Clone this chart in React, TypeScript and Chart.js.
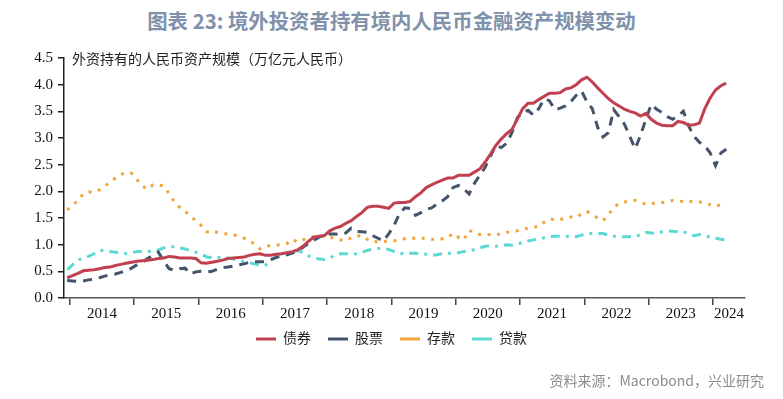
import React, { useEffect, useRef } from 'react';
import { Chart, registerables } from 'chart.js';

Chart.register(...registerables);

const TITLE = '图表 23: 境外投资者持有境内人民币金融资产规模变动';
const Y_TITLE = '外资持有的人民币资产规模（万亿元人民币）';
const SOURCE = '资料来源：Macrobond，兴业研究';
const SERIES_NAMES = ['债券', '股票', '存款', '贷款'];
const YEAR_LABELS = ['2014', '2015', '2016', '2017', '2018', '2019', '2020', '2021', '2022', '2023', '2024'];
const FIRST_YEAR = 2013;
const FIRST_MONTH = 12;
const Y_TICKS = [0, 0.5, 1, 1.5, 2, 2.5, 3, 3.5, 4, 4.5];

// Monthly values, Dec 2013 .. Mar 2024 (trillion RMB)
const BONDS = [
  0.38, 0.42, 0.46, 0.51, 0.52, 0.53, 0.55, 0.57, 0.58, 0.61, 0.63, 0.65, 0.67,
  0.69, 0.70, 0.71, 0.72, 0.74, 0.75, 0.78, 0.77, 0.75, 0.75, 0.75, 0.74,
  0.66, 0.65, 0.67, 0.69, 0.71, 0.74, 0.75, 0.76, 0.77, 0.80, 0.82, 0.83,
  0.80, 0.80, 0.82, 0.83, 0.85, 0.87, 0.90, 0.97, 1.06, 1.14, 1.16, 1.17,
  1.26, 1.31, 1.34, 1.40, 1.45, 1.53, 1.60, 1.70, 1.72, 1.72, 1.70, 1.68,
  1.78, 1.79, 1.79, 1.81, 1.90, 1.97, 2.07, 2.12, 2.17, 2.21, 2.25, 2.25,
  2.30, 2.30, 2.30, 2.36, 2.42, 2.55, 2.70, 2.86, 2.98, 3.08, 3.16, 3.35,
  3.55, 3.65, 3.65, 3.72, 3.78, 3.84, 3.84, 3.85, 3.92, 3.94, 4.00, 4.09,
  4.14, 4.05, 3.94, 3.84, 3.74, 3.66, 3.60, 3.54, 3.50, 3.47, 3.41, 3.46,
  3.35, 3.28, 3.24, 3.23, 3.23, 3.31, 3.29, 3.24, 3.25, 3.28, 3.55, 3.75,
  3.90, 3.98, 4.03,
];
const STOCKS = [
  0.33, 0.32, 0.31, 0.32, 0.34, 0.35, 0.38, 0.41, 0.43, 0.45, 0.48, 0.51, 0.56,
  0.62, 0.67, 0.74, 0.80, 0.86, 0.70, 0.55, 0.52, 0.55, 0.56, 0.45, 0.49,
  0.50, 0.49, 0.50, 0.54, 0.57, 0.58, 0.60, 0.62, 0.64, 0.67, 0.68, 0.68,
  0.68, 0.72, 0.76, 0.79, 0.81, 0.84, 0.88, 0.95, 1.02, 1.08, 1.14, 1.18,
  1.20, 1.20, 1.19, 1.22, 1.31, 1.25, 1.24, 1.23, 1.17, 1.12, 1.07, 1.20,
  1.36, 1.58, 1.69, 1.68, 1.55, 1.60, 1.66, 1.69, 1.76, 1.82, 1.90, 2.07,
  2.11, 2.05, 1.95, 2.15, 2.30, 2.45, 2.66, 2.86, 2.82, 2.90, 3.10, 3.38,
  3.48, 3.52, 3.43, 3.55, 3.73, 3.70, 3.53, 3.56, 3.60, 3.68, 3.80, 3.88,
  3.68, 3.55, 3.20, 3.02, 3.10, 3.53, 3.40, 3.26, 3.03, 2.80, 3.05, 3.35,
  3.63, 3.54, 3.48, 3.40, 3.35, 3.42, 3.50, 3.22, 3.03, 2.92, 2.85, 2.72,
  2.48, 2.72, 2.79,
];
const DEPOSITS = [
  1.65, 1.74, 1.83, 1.95, 1.99, 1.98, 2.03, 2.10, 2.17, 2.25, 2.32, 2.35, 2.34,
  2.22, 2.10, 2.04, 2.12, 2.12, 2.10, 1.96, 1.80, 1.70, 1.63, 1.53, 1.45,
  1.36, 1.24, 1.26, 1.23, 1.21, 1.20, 1.19, 1.15, 1.12, 1.07, 1.01, 0.92,
  0.96, 0.99, 0.99, 1.00, 1.02, 1.10, 1.05, 1.09, 1.13, 1.15, 1.16, 1.16,
  1.14, 1.12, 1.09, 1.07, 1.13, 1.16, 1.17, 1.10, 1.05, 1.06, 1.06, 1.07,
  1.07, 1.10, 1.11, 1.12, 1.12, 1.12, 1.12, 1.10, 1.09, 1.11, 1.13, 1.21,
  1.14, 1.09, 1.27, 1.22, 1.19, 1.19, 1.19, 1.19, 1.20, 1.23, 1.25, 1.26,
  1.29, 1.31, 1.33, 1.34, 1.42, 1.48, 1.47, 1.47, 1.50, 1.52, 1.51, 1.58,
  1.62, 1.57, 1.50, 1.45, 1.56, 1.70, 1.77, 1.80, 1.81, 1.83, 1.79, 1.76,
  1.77, 1.78, 1.79, 1.80, 1.83, 1.82, 1.81, 1.81, 1.81, 1.80, 1.79, 1.75,
  1.72, 1.75, 1.77,
];
const LOANS = [
  0.53, 0.62, 0.71, 0.75, 0.78, 0.83, 0.89, 0.89, 0.87, 0.86, 0.85, 0.83, 0.85,
  0.87, 0.87, 0.87, 0.88, 0.90, 0.94, 0.96, 0.96, 0.94, 0.92, 0.89, 0.86,
  0.82, 0.77, 0.76, 0.76, 0.76, 0.75, 0.73, 0.71, 0.68, 0.66, 0.64, 0.61,
  0.62, 0.71, 0.76, 0.80, 0.84, 0.88, 0.89, 0.85, 0.79, 0.76, 0.73, 0.72,
  0.75, 0.80, 0.83, 0.83, 0.82, 0.83, 0.86, 0.89, 0.92, 0.93, 0.93, 0.91,
  0.87, 0.83, 0.84, 0.84, 0.84, 0.83, 0.82, 0.80, 0.81, 0.83, 0.84, 0.84,
  0.85, 0.87, 0.88, 0.91, 0.94, 0.97, 0.98, 0.97, 0.98, 1.00, 0.99, 1.01,
  1.04, 1.07, 1.09, 1.10, 1.13, 1.15, 1.16, 1.16, 1.16, 1.15, 1.15, 1.18,
  1.21, 1.21, 1.21, 1.21, 1.18, 1.16, 1.15, 1.15, 1.15, 1.16, 1.18, 1.23,
  1.22, 1.21, 1.24, 1.26, 1.25, 1.24, 1.24, 1.21, 1.17, 1.19, 1.17, 1.14,
  1.12, 1.10, 1.09,
];

// month labels "YYYY-MM" for each data point
const MONTHS: string[] = BONDS.map((_, i) => {
  const total = FIRST_YEAR * 12 + (FIRST_MONTH - 1) + i;
  const y = Math.floor(total / 12);
  const m = (total % 12) + 1;
  return `${y}-${String(m).padStart(2, '0')}`;
});

const BASE_YEAR = Number(YEAR_LABELS[0]);
// position of a month on the time axis (months since Jan of the first year label, mid-month)
const monthPos = (label: string) => {
  const [y, m] = label.split('-').map(Number);
  return (y - BASE_YEAR) * 12 + (m - 1) + 0.5;
};
const toPoints = (vals: number[]) => vals.map((v, i) => ({ x: monthPos(MONTHS[i]), y: v }));

const X_MIN = -1.1;
const X_MAX = 126;

const COLORS = ['#c1404f', '#44546a', '#f0a53a', '#5dd9d3'];
const DASHES = [[], [9, 7], [3, 6.5], [9, 6, 3, 6]];
const SERIES = [BONDS, STOCKS, DEPOSITS, LOANS];

const SERIF = "'Liberation Serif', 'Times New Roman', serif";
const CJK_SERIF = "'Liberation Serif', 'Noto Sans CJK SC', serif";

export default function App() {
  const ref = useRef<HTMLCanvasElement | null>(null);

  useEffect(() => {
    const canvas = ref.current;
    if (!canvas) return;

    // tick positions: year boundaries and year-label centres
    const boundaries = YEAR_LABELS.map((_, i) => i * 12);
    const centres = YEAR_LABELS.map((_, i) => (i < YEAR_LABELS.length - 1 ? i * 12 + 6 : (i * 12 + X_MAX) / 2));
    const tickVals = [...boundaries, ...centres].sort((a, b) => a - b);

    const yTitlePlugin = {
      id: 'yTitle',
      afterLayout(chart: any) {
        const lg = chart.legend;
        if (lg) {
          lg.top -= 9;
          lg.bottom -= 9;
        }
      },
      afterDraw(chart: any) {
        const { ctx, chartArea } = chart;
        ctx.save();
        ctx.font = "14px 'Noto Sans CJK SC', sans-serif";
        ctx.fillStyle = '#222';
        ctx.textAlign = 'left';
        ctx.textBaseline = 'middle';
        ctx.fillText(Y_TITLE, chartArea.left + 8, chartArea.top + 1);
        ctx.restore();
      },
    };

    const chart = new Chart(canvas, {
      type: 'line',
      data: {
        datasets: SERIES.map((vals, i) => ({
          label: SERIES_NAMES[i],
          data: toPoints(vals),
          borderColor: COLORS[i],
          backgroundColor: COLORS[i],
          borderWidth: 3,
          borderDash: DASHES[i],
          borderCapStyle: 'butt',
          pointRadius: 0,
          pointHoverRadius: 0,
          tension: 0,
          fill: false,
        })),
      },
      options: {
        animation: false,
        responsive: false,
        maintainAspectRatio: false,
        layout: { padding: { top: 58, left: 0, right: 0, bottom: 34 } },
        scales: {
          x: {
            type: 'linear',
            min: X_MIN,
            max: X_MAX,
            afterBuildTicks: (scale: any) => {
              scale.ticks = tickVals.map((v) => ({ value: v }));
            },
            afterFit: (scale: any) => {
              scale.height = 26;
            },
            ticks: {
              autoSkip: false,
              maxRotation: 0,
              minRotation: 0,
              padding: 0,
              color: '#111',
              font: { family: SERIF, size: 15 },
              callback: (v: any) => {
                const idx = centres.indexOf(Number(v));
                return idx >= 0 ? YEAR_LABELS[idx] : '';
              },
            },
            grid: {
              drawOnChartArea: false,
              drawTicks: true,
              tickLength: 7,
              tickColor: (c: any) => (c.tick && c.tick.value % 12 === 0 ? '#444' : 'rgba(0,0,0,0)'),
              lineWidth: 1.5,
            },
            border: { display: true, color: '#555', width: 1.5 },
          },
          y: {
            min: 0,
            max: 4.5,
            afterBuildTicks: (scale: any) => {
              scale.ticks = Y_TICKS.map((v) => ({ value: v }));
            },
            afterFit: (scale: any) => {
              scale.width = 64;
            },
            ticks: {
              padding: 5,
              color: '#111',
              font: { family: SERIF, size: 15 },
              callback: (v: any) => Number(v).toFixed(1),
            },
            grid: {
              drawOnChartArea: false,
              drawTicks: true,
              tickLength: 6,
              tickColor: '#222',
              lineWidth: 1.5,
            },
            border: { display: true, color: '#222', width: 1.5 },
          },
          spacer: {
            type: 'linear',
            position: 'right',
            display: true,
            min: 0,
            max: 1,
            afterFit: (scale: any) => {
              scale.width = 38;
            },
            ticks: { display: false },
            grid: { display: false, drawTicks: false },
            border: { display: false },
          },
        },
        plugins: {
          legend: {
            display: true,
            position: 'bottom',
            align: 'center',
            labels: {
              usePointStyle: true,
              pointStyle: 'line',
              pointStyleWidth: 20,
              padding: 17,
              color: '#222',
              font: { family: CJK_SERIF, size: 14 },
            },
          },
          tooltip: { enabled: false },
          title: { display: false },
        },
      },
      plugins: [yTitlePlugin],
    } as any);

    return () => chart.destroy();
  }, []);

  return (
    <div style={{ position: 'fixed', left: 0, top: 0, width: 783, height: 399, background: '#fff', overflow: 'hidden' }}>
      <div
        style={{
          position: 'absolute',
          left: 0,
          top: 7,
          width: 783,
          textAlign: 'center',
          fontFamily: "'Noto Sans CJK SC', sans-serif",
          fontWeight: 700,
          fontSize: 20.4,
          lineHeight: '26px',
          color: '#8092ab',
          whiteSpace: 'nowrap',
        }}
      >
        {TITLE}
      </div>
      <canvas ref={ref} width={783} height={399} style={{ position: 'absolute', left: 0, top: 0, width: 783, height: 399 }} />
      <div
        style={{
          position: 'absolute',
          right: 19,
          top: 370,
          fontFamily: "'Noto Sans CJK SC', sans-serif",
          fontSize: 14,
          lineHeight: '20px',
          color: '#8c8c8c',
          whiteSpace: 'nowrap',
        }}
      >
        {SOURCE}
      </div>
    </div>
  );
}
